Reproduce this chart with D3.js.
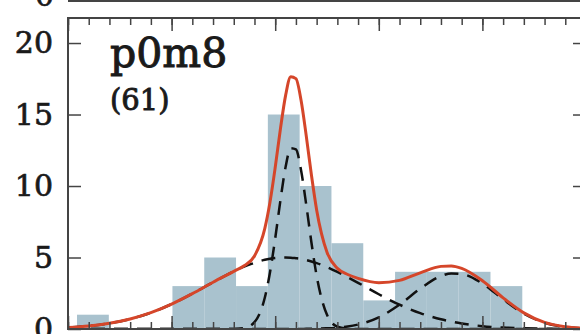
<!DOCTYPE html>
<html>
<head>
<meta charset="utf-8">
<script src="https://cdn.jsdelivr.net/npm/d3@7"></script>
<style>
  body { margin: 0; background: #fff; }
  svg { display: block; }
  text { font-family: "DejaVu Serif", "Liberation Serif", serif; fill: #1a1a1a; stroke: #1a1a1a; stroke-width: 0.7px; }
</style>
</head>
<body>
<div id="viz"></div>
<script>
// histogram (bin edges + counts)
var binEdges = [0.087, 0.394, 0.701, 1.008, 1.315, 1.622, 1.929, 2.236, 2.543, 2.85, 3.157, 3.464, 3.771, 4.078, 4.385];
var counts   = [1, 0, 0, 3, 5, 3, 15, 10, 6, 2, 4, 4, 4, 3];

// fitted curves
var curveX = [0, 0.2, 0.4, 0.6, 0.8, 1.0, 1.2, 1.4, 1.6, 1.7, 1.8, 1.9, 1.95, 2.0, 2.05, 2.1, 2.15, 2.2, 2.25, 2.3,
              2.35, 2.4, 2.5, 2.6, 2.7, 2.8, 3.0, 3.2, 3.4, 3.6, 3.7, 3.8, 4.0, 4.2, 4.4, 4.6, 4.8, 5.0];
var totalFit = [0.10, 0.21, 0.40, 0.70, 1.14, 1.74, 2.47, 3.27, 4.03, 4.42, 5.11, 7.04, 8.88, 11.29, 13.97, 16.32, 17.64, 17.51, 15.98, 13.49,
                10.75, 8.33, 5.37, 4.24, 3.81, 3.54, 3.24, 3.40, 3.93, 4.38, 4.41, 4.24, 3.38, 2.18, 1.13, 0.46, 0.16, 0.04];
var comp1 = [0.10, 0.21, 0.40, 0.70, 1.14, 1.74, 2.47, 3.27, 4.03, 4.36, 4.63, 4.84, 4.91, 4.96, 4.99, 5.00, 4.99, 4.95, 4.90, 4.82,
             4.72, 4.61, 4.33, 3.99, 3.62, 3.23, 2.43, 1.70, 1.11, 0.68, 0.52, 0.39, 0.20, 0.10, 0.05, 0.02, 0.01, 0.00];
var comp2 = [0, 0, 0, 0, 0, 0, 0, 0, 0, 0.06, 0.48, 2.20, 3.97, 6.33, 8.98, 11.32, 12.65, 12.56, 11.08, 8.67,
             6.03, 3.72, 0.99, 0.16, 0.02, 0, 0, 0, 0, 0, 0, 0, 0, 0, 0, 0, 0, 0];
var comp3 = [0, 0, 0, 0, 0, 0, 0, 0, 0, 0, 0, 0, 0, 0, 0, 0, 0, 0, 0.00, 0.01,
             0.01, 0.02, 0.05, 0.09, 0.17, 0.31, 0.81, 1.70, 2.82, 3.70, 3.89, 3.85, 3.18, 2.08, 1.08, 0.44, 0.15, 0.04];

var yTicks = [0, 5, 10, 15, 20];
var xMajor = [0, 1, 2, 3, 4, 5];
var title = 'p0m8',
    subtitle = '(61)';

var W = 580, H = 334;
var box = { left: 68, right: 586, top: 18, bottom: 329 };

var x = d3.scaleLinear().domain([0, 5]).range([box.left, box.right]);
var y = d3.scaleLinear().domain([0, 21.75]).range([box.bottom, box.top]);

var svg = d3.select('#viz').append('svg')
  .attr('width', W)
  .attr('height', H);

svg.append('clipPath').attr('id', 'plot')
  .append('rect')
  .attr('x', box.left).attr('y', box.top)
  .attr('width', box.right - box.left).attr('height', box.bottom - box.top);

// bottom edge of the panel above
svg.append('line')
  .attr('x1', box.left).attr('x2', W)
  .attr('y1', 1).attr('y2', 1)
  .attr('stroke', '#444').attr('stroke-width', 2);
svg.append('text')
  .attr('x', 54).attr('y', 6)
  .attr('text-anchor', 'end')
  .style('font-size', '30px')
  .text('0');

var plot = svg.append('g').attr('clip-path', 'url(#plot)');

plot.selectAll('rect.bar').data(counts)
  .enter().append('rect')
    .attr('class', 'bar')
    .attr('fill', '#a9c2ce')
    .attr('x', function(d, i) { return x(binEdges[i]); })
    .attr('width', function(d, i) { return x(binEdges[i + 1]) - x(binEdges[i]); })
    .attr('y', function(d) { return y(d); })
    .attr('height', function(d) { return y(0) - y(d); });

var line = d3.line()
  .x(function(d, i) { return x(curveX[i]); })
  .y(function(d) { return y(d); })
  .curve(d3.curveMonotoneX);

[comp1, comp2, comp3].forEach(function(c) {
  plot.append('path')
    .attr('d', line(c))
    .attr('fill', 'none')
    .attr('stroke', '#111')
    .attr('stroke-width', 2.5)
    .attr('stroke-dasharray', '14,9');
});

plot.append('path')
  .attr('d', line(totalFit))
  .attr('fill', 'none')
  .attr('stroke', '#d5462a')
  .attr('stroke-width', 3);

// frame + ticks
var axisCol = '#444';

var yLeft = d3.axisLeft(y).tickValues(yTicks).tickSizeInner(-13).tickSizeOuter(0).tickPadding(15);
var yRight = d3.axisRight(y).tickValues(yTicks).tickSizeInner(-13).tickSizeOuter(0).tickFormat('');
var xTopMinor = d3.axisTop(x).ticks(25).tickSizeInner(-7).tickSizeOuter(0).tickFormat('');
var xTopMajor = d3.axisTop(x).tickValues(xMajor).tickSizeInner(-13).tickSizeOuter(0).tickFormat('');
var xBotMinor = d3.axisBottom(x).ticks(25).tickSizeInner(-7).tickSizeOuter(0).tickFormat('');
var xBotMajor = d3.axisBottom(x).tickValues(xMajor).tickSizeInner(-13).tickSizeOuter(0).tickFormat('');

function styleAxis(g) {
  g.select('.domain').remove();
  g.selectAll('line').attr('stroke', axisCol).attr('stroke-width', 1.5);
  g.selectAll('text').attr('fill', '#1a1a1a')
    .style('font-family', '"DejaVu Serif", serif')
    .style('font-size', '30px');
}

svg.append('g').attr('transform', 'translate(' + box.left + ',0)').call(yLeft).call(styleAxis);
svg.append('g').attr('transform', 'translate(' + box.right + ',0)').call(yRight).call(styleAxis);
svg.append('g').attr('transform', 'translate(0,' + box.top + ')').call(xTopMinor).call(styleAxis);
svg.append('g').attr('transform', 'translate(0,' + box.top + ')').call(xTopMajor).call(styleAxis);
svg.append('g').attr('transform', 'translate(0,' + box.bottom + ')').call(xBotMinor).call(styleAxis);
svg.append('g').attr('transform', 'translate(0,' + box.bottom + ')').call(xBotMajor).call(styleAxis);

svg.append('rect')
  .attr('x', box.left).attr('y', box.top)
  .attr('width', box.right - box.left).attr('height', box.bottom - box.top)
  .attr('fill', 'none')
  .attr('stroke', axisCol)
  .attr('stroke-width', 2);

svg.append('text')
  .attr('x', 110).attr('y', 67)
  .style('font-size', '41px')
  .style('stroke-width', '1px')
  .text(title);
svg.append('text')
  .attr('x', 110).attr('y', 110)
  .style('font-size', '29px')
  .style('stroke-width', '0.9px')
  .text(subtitle);
</script>
</body>
</html>
